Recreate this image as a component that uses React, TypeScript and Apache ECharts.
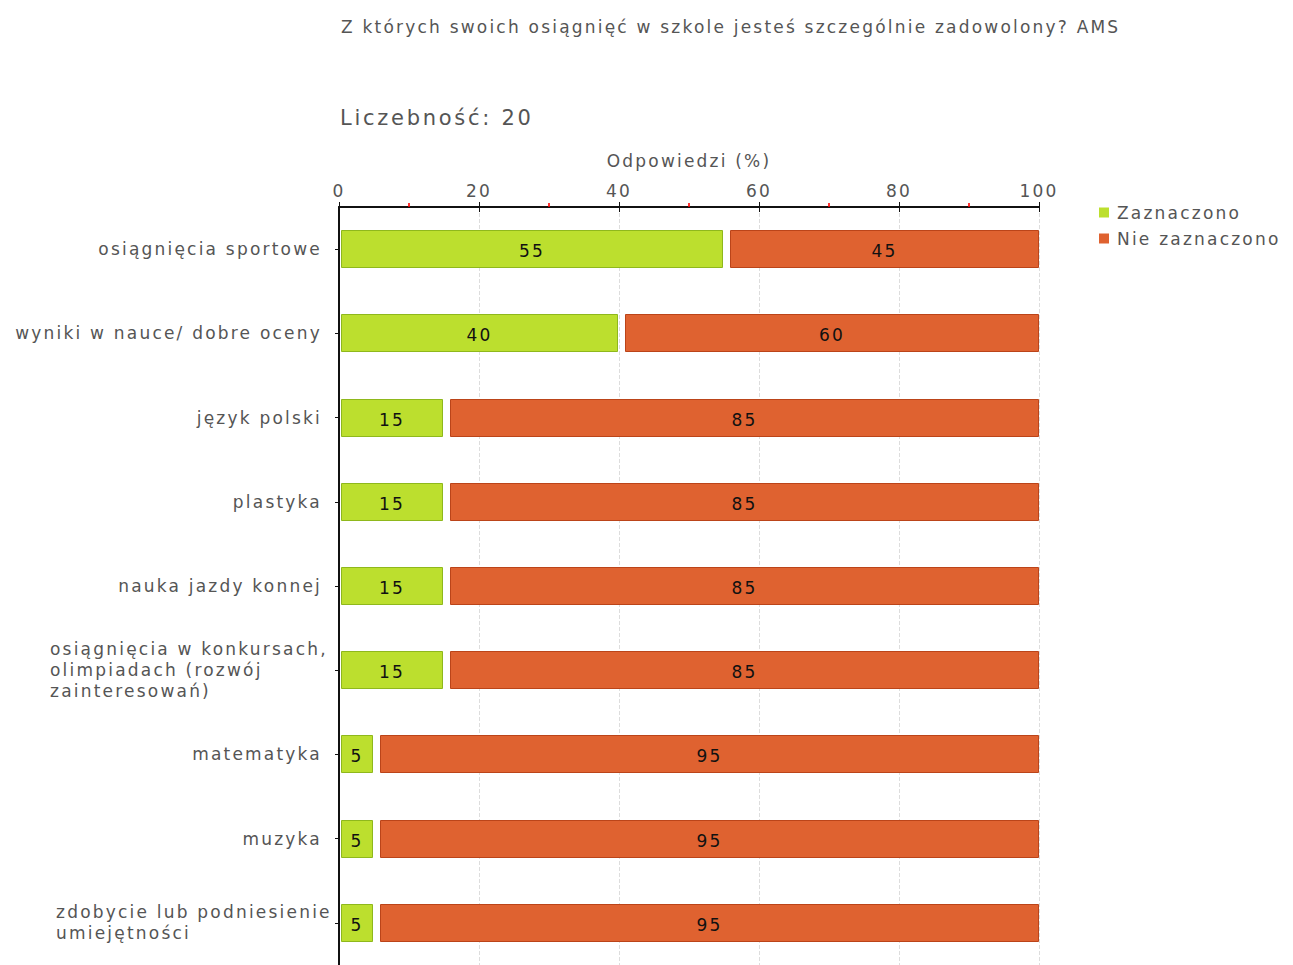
import React, { useEffect, useRef } from "react";
import * as echarts from "echarts";

const titleText = "Z których swoich osiągnięć w szkole jesteś szczególnie zadowolony? AMS";
const countText = "Liczebność: 20";
const axisName = "Odpowiedzi (%)";
const seriesNames = ["Zaznaczono", "Nie zaznaczono"];
const categories = [
  "osiągnięcia sportowe",
  "wyniki w nauce/ dobre oceny",
  "język polski",
  "plastyka",
  "nauka jazdy konnej",
  "osiągnięcia w konkursach,\nolimpiadach (rozwój\nzainteresowań)",
  "matematyka",
  "muzyka",
  "zdobycie lub podniesienie\numiejętności",
];
const zaznaczono = [55, 40, 15, 15, 15, 15, 5, 5, 5];
const nieZaznaczono = [45, 60, 85, 85, 85, 85, 95, 95, 95];
const xMin = 0;
const xMax = 100;
const xInterval = 20;

const FONT = "'DejaVu Sans', Verdana, sans-serif";
const GREY = "#555555";
const BAR_H = 38;

function makeRender(fill: string, stroke: string, insetL: number, insetR: number) {
  return (params: any, api: any) => {
    const cat = api.value(2);
    const a = api.coord([api.value(0), cat]);
    const b = api.coord([api.value(1), cat]);
    const left = Math.round(a[0]) + insetL;
    const right = Math.round(b[0]) - insetR;
    const top = Math.round(a[1] - BAR_H / 2);
    return {
      type: "group",
      children: [
        {
          type: "rect",
          shape: { x: left + 0.5, y: top + 0.5, width: right - left - 1, height: BAR_H - 1 },
          style: { fill, stroke, lineWidth: 1 },
        },
        {
          type: "text",
          style: {
            text: String(api.value(3)),
            x: (left + right) / 2,
            y: a[1] + 2,
            align: "center",
            verticalAlign: "middle",
            fill: "#111111",
            fontSize: 17,
            fontFamily: FONT,
          },
        },
      ],
    };
  };
}

export default function App() {
  const ref = useRef<HTMLDivElement>(null);
  useEffect(() => {
    if (!ref.current) return;
    const chart = echarts.init(ref.current, null, { renderer: "svg" });
    const greenData = categories.map((_, i) => [0, zaznaczono[i], i, zaznaczono[i]]);
    const orangeData = categories.map((_, i) => [
      zaznaczono[i],
      zaznaczono[i] + nieZaznaczono[i],
      i,
      nieZaznaczono[i],
    ]);
    chart.setOption({
      animation: false,
      backgroundColor: "#ffffff",
      title: [
        {
          text: titleText,
          left: 336,
          top: 13,
          textStyle: { fontSize: 17, fontWeight: "normal", color: GREY, fontFamily: FONT },
        },
        {
          text: countText,
          left: 335,
          top: 102,
          textStyle: { fontSize: 21, fontWeight: "normal", color: GREY, fontFamily: FONT },
        },
      ],
      legend: {
        orient: "vertical",
        left: 1094,
        top: 199,
        itemWidth: 10,
        itemHeight: 10,
        itemGap: 9,
        icon: "rect",
        textStyle: { fontSize: 17, color: GREY, fontFamily: FONT, padding: [0, 0, 0, 3] },
        data: seriesNames,
      },
      grid: { left: 339, top: 207, width: 700, height: 759, containLabel: false },
      xAxis: [
        {
          type: "value",
          position: "top",
          min: xMin,
          max: xMax,
          interval: xInterval,
          name: axisName,
          nameLocation: "middle",
          nameGap: 38,
          nameTextStyle: { fontSize: 17, color: GREY, fontFamily: FONT },
          axisLine: { show: true, lineStyle: { color: "#111111", width: 2 } },
          axisTick: { show: true, length: 5, lineStyle: { color: "#111111", width: 1 } },
          minorTick: { show: true, splitNumber: 2, length: 4, lineStyle: { color: "#ff0000", width: 1.6 } },
          axisLabel: { fontSize: 17, color: GREY, fontFamily: FONT, margin: 8 },
          splitLine: { show: true, lineStyle: { color: "#dddddd", type: "dashed", width: 1 } },
        },
        {
          type: "value",
          position: "top",
          min: xMin,
          max: xMax,
          interval: xInterval,
          axisLine: { show: false },
          axisTick: { show: true, inside: true, length: 5, lineStyle: { color: "#111111", width: 1 } },
          axisLabel: { show: false },
          splitLine: { show: false },
        },
      ],
      yAxis: {
        type: "category",
        inverse: true,
        data: categories,
        axisLine: { show: true, lineStyle: { color: "#111111", width: 2 } },
        axisTick: { show: true, alignWithLabel: true, length: 4, lineStyle: { color: "#111111" } },
        axisLabel: {
          fontSize: 17,
          color: GREY,
          fontFamily: FONT,
          margin: 17,
          align: "right",
          formatter: (v: string) => {
            if (v.indexOf("\n") < 0) return v;
            const key = v.startsWith("zdobycie") ? "b" : "a";
            return v
              .split("\n")
              .map((l) => `{${key}|${l}}`)
              .join("\n");
          },
          rich: {
            a: { width: 272, align: "left", lineHeight: 21, fontSize: 17, color: GREY, fontFamily: FONT },
            b: { width: 266, align: "left", lineHeight: 21, fontSize: 17, color: GREY, fontFamily: FONT },
          },
        },
        splitLine: { show: false },
      },
      series: [
        {
          name: seriesNames[0],
          type: "custom",
          xAxisIndex: 0,
          itemStyle: { color: "#bcdf2e" },
          encode: { x: [0, 1], y: 2 },
          renderItem: makeRender("#bcdf2e", "#8fb81c", 2, 1),
          data: greenData,
        },
        {
          name: seriesNames[1],
          type: "custom",
          xAxisIndex: 0,
          itemStyle: { color: "#df6230" },
          encode: { x: [0, 1], y: 2 },
          renderItem: makeRender("#df6230", "#bb4419", 6, 0),
          data: orangeData,
        },
      ],
    });
    return () => chart.dispose();
  }, []);
  return (
    <>
      <style>{`#chart text { letter-spacing: 0.13em; }`}</style>
      <div
        id="chart"
        ref={ref}
        style={{ position: "absolute", left: 0, top: 0, width: 1293, height: 965 }}
      />
    </>
  );
}
